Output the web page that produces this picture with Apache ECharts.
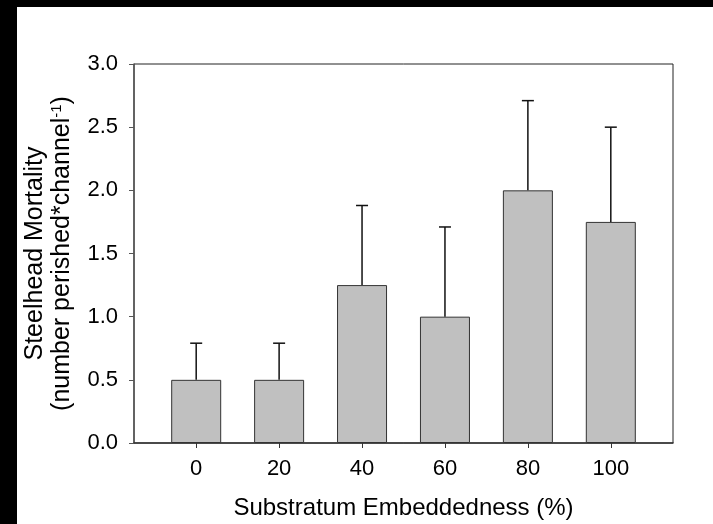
<!DOCTYPE html>
<html>
<head>
<meta charset="utf-8">
<script src="https://cdn.jsdelivr.net/npm/echarts@6/dist/echarts.min.js"></script>
<style>
  html, body { margin: 0; padding: 0; background: #000; width: 713px; height: 524px; overflow: hidden; }
  #chart { position: absolute; left: 17px; top: 7px; width: 696px; height: 517px; background: #fff; }
</style>
</head>
<body>
<div id="chart"></div>
<script>
// Embeddedness levels (%), mean mortality and upper error limits
const embeddedness = [0, 20, 40, 60, 80, 100];
const mortality = [0.5, 0.5, 1.25, 1.0, 2.0, 1.75];
const upperError = [0.79, 0.79, 1.88, 1.71, 2.71, 2.50];
const xTicks = [0, 20, 40, 60, 80, 100];
const yTicks = [0, 0.5, 1.0, 1.5, 2.0, 2.5, 3.0];

const FONT = "'Liberation Sans', Arial, sans-serif";

const barData = embeddedness.map((x, i) => [x, mortality[i]]);
const errData = embeddedness.map((x, i) => [x, mortality[i], upperError[i]]);

const chart = echarts.init(document.getElementById('chart'));
chart.setOption({
  animation: false,
  backgroundColor: '#fff',
  grid: {
    left: 117, top: 57, right: 40, bottom: 81,
    containLabel: false,
    outerBoundsMode: 'none',
    show: true, borderColor: '#222', borderWidth: 1, backgroundColor: 'transparent'
  },
  xAxis: {
    type: 'value',
    min: -15, max: 115,
    name: 'Substratum Embeddedness (%)',
    nameLocation: 'middle',
    nameGap: 53,
    nameTextStyle: { fontFamily: FONT, fontSize: 24, color: '#000' },
    axisLine: { show: true, onZero: false, lineStyle: { color: '#333', width: 1.5 } },
    axisTick: { show: true, inside: false, length: 5, customValues: xTicks, lineStyle: { color: '#333', width: 1 } },
    axisLabel: { customValues: xTicks, margin: 15, fontFamily: FONT, fontSize: 22, color: '#000' },
    splitLine: { show: false }
  },
  yAxis: {
    type: 'value',
    min: 0, max: 3, interval: 0.5,
    name: 'Steelhead Mortality\n{p|(number perished*channel}{s|-1}{p|)}',
    nameLocation: 'middle',
    nameGap: 58,
    nameRotate: 90,
    nameTextStyle: {
      fontFamily: FONT, fontSize: 25, color: '#000', lineHeight: 27,
      rich: {
        p: { fontFamily: FONT, fontSize: 25, color: '#000', lineHeight: 27 },
        s: { fontFamily: FONT, fontSize: 15, color: '#000', verticalAlign: 'top', lineHeight: 27, padding: [0, 0, 8, 0] }
      }
    },
    axisLine: { show: true, onZero: false, lineStyle: { color: '#555', width: 1.5 } },
    axisTick: { show: true, inside: false, length: 5, lineStyle: { color: '#555', width: 1 } },
    axisLabel: {
      margin: 16, fontFamily: FONT, fontSize: 22, color: '#000',
      formatter: v => v.toFixed(1),
      customValues: yTicks
    },
    splitLine: { show: false }
  },
  series: [
    {
      type: 'bar',
      data: barData,
      barWidth: 50,
      itemStyle: { color: '#c0c0c0', borderColor: '#333', borderWidth: 1 },
      z: 2
    },
    {
      type: 'custom',
      data: errData,
      z: 3,
      renderItem: function (params, api) {
        const x = api.value(0);
        const top = api.coord([x, api.value(2)]);
        const base = api.coord([x, api.value(1)]);
        const half = 6;
        return {
          type: 'group',
          children: [
            { type: 'line', shape: { x1: base[0], y1: base[1], x2: top[0], y2: top[1] }, style: { stroke: '#111', lineWidth: 1.5 } },
            { type: 'line', shape: { x1: top[0] - half, y1: top[1], x2: top[0] + half, y2: top[1] }, style: { stroke: '#111', lineWidth: 1.5 } }
          ]
        };
      }
    }
  ]
});
</script>
</body>
</html>
